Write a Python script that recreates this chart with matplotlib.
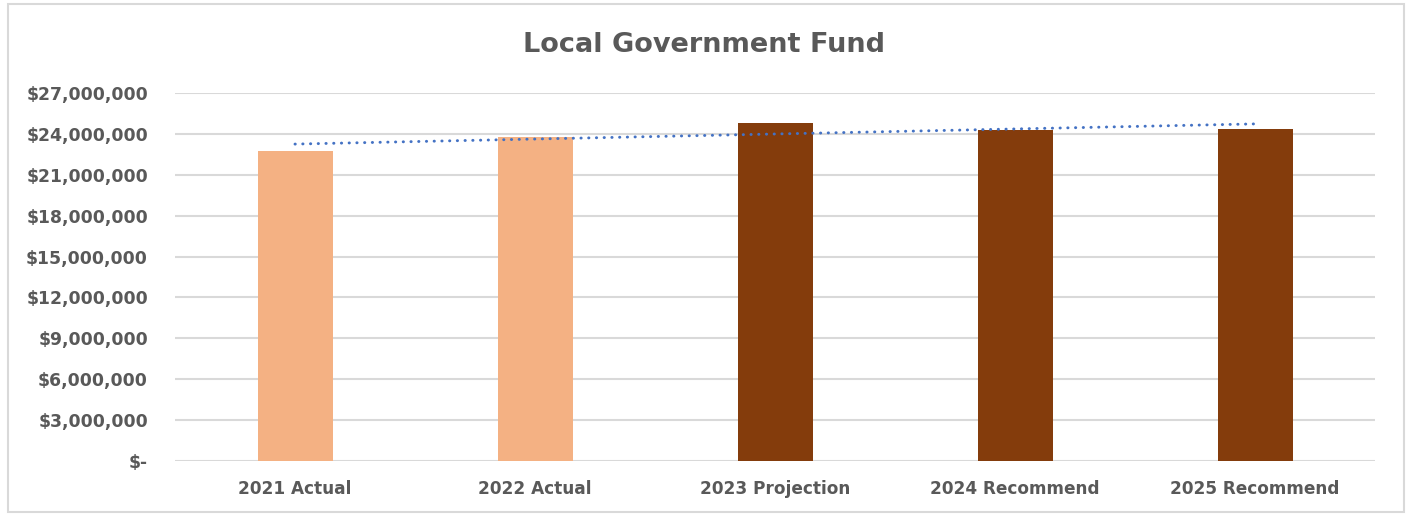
import numpy as np
import matplotlib
matplotlib.use("Agg")
import matplotlib.pyplot as plt
from matplotlib.patches import Rectangle
from matplotlib.ticker import FuncFormatter, MultipleLocator

categories = ["2021 Actual", "2022 Actual", "2023 Projection", "2024 Recommend", "2025 Recommend"]
values = [22740000, 23810000, 24840000, 24300000, 24350000]
bar_colors = ["#F4B183", "#F4B183", "#843C0C", "#843C0C", "#843C0C"]
title = "Local Government Fund"

plt.rcParams['font.family'] = ['DejaVu Sans']
text_color = "#595959"
grid_color = "#D9D9D9"

fig = plt.figure(figsize=(14.08, 5.14), dpi=100)
ax = fig.add_axes([175/1408, 1 - 460.5/514, 1200/1408, (460.5 - 93.3)/514])

x = np.arange(len(categories))
ax.bar(x, values, width=0.3125, color=bar_colors, zorder=3)

# linear trendline
coef = np.polyfit(x, values, 1)
trend = np.polyval(coef, x)
ax.plot(x, trend, color="#4472C4", linewidth=2.1, linestyle=(0, (0.1, 2.55)),
        dash_capstyle="round", zorder=4)

ax.set_xlim(-0.5, len(categories) - 0.5)
ax.set_ylim(0, 27000000)
ax.yaxis.set_major_locator(MultipleLocator(3000000))

def fmt(v, pos):
    if abs(v) < 1:
        return "$-"
    return "${:,.0f}".format(v)

ax.yaxis.set_major_formatter(FuncFormatter(fmt))
ax.grid(axis="y", color=grid_color, linewidth=1.5, zorder=0)
ax.set_axisbelow(True)
for s in ax.spines.values():
    s.set_visible(False)
ax.tick_params(axis="both", length=0)
ax.tick_params(axis="y", pad=19.5)
ax.tick_params(axis="x", pad=14)
ax.set_xticks(x)
ax.set_xticklabels(categories)
for lbl in ax.get_yticklabels():
    lbl.set_fontsize(12.4)
    lbl.set_fontweight("bold")
    lbl.set_color(text_color)
for lbl in ax.get_xticklabels():
    lbl.set_fontsize(12.2)
    lbl.set_fontweight("bold")
    lbl.set_color(text_color)

fig.text(0.5, 1 - 45/514, title, ha="center", va="center", fontsize=19.5,
         fontweight="bold", color=text_color)

# chart border
fig.patches.append(Rectangle((8/1408, 2/514), 1396/1408, 508/514, transform=fig.transFigure,
                             fill=False, edgecolor=grid_color, linewidth=1.5))

fig.savefig("out.png", dpi=100)
